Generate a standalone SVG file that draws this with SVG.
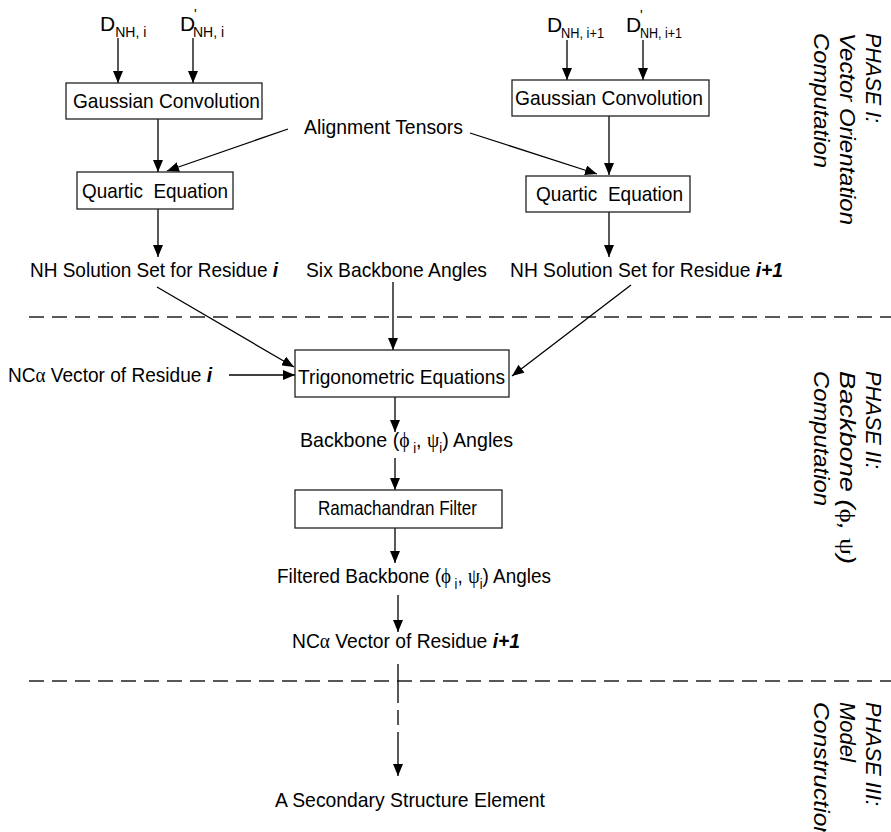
<svg xmlns="http://www.w3.org/2000/svg" width="891" height="832" viewBox="0 0 891 832">
<defs>
<marker id="ah" viewBox="0 0 12 10" refX="12" refY="5" markerWidth="12" markerHeight="10" orient="auto" markerUnits="userSpaceOnUse">
<path d="M0,0 L12,5 L0,10 z" fill="#000"/>
</marker>
<style>
text{font-family:"Liberation Sans",Arial,sans-serif;font-size:21px;fill:#000;white-space:pre}
.box{fill:#fff;stroke:#222;stroke-width:1.3}
.c{stroke:#000;stroke-width:1.3;fill:none}
.a{marker-end:url(#ah)}
.sub{font-size:14px}
.gr{font-family:"Liberation Serif","DejaVu Serif",serif}
.bi{font-weight:bold;font-style:italic}
.ph{font-style:italic;font-size:22px}
.dash{stroke:#222;stroke-width:1.3;stroke-dasharray:15 8;fill:none}
</style>
</defs>
<rect width="891" height="832" fill="#fff"/>

<g id="dividers">
<line class="dash" x1="29" y1="317" x2="891" y2="317"/>
<line class="dash" x1="29" y1="681" x2="891" y2="681"/>
</g>

<g id="connectors">
<line class="c a" x1="118" y1="38" x2="118" y2="83"/>
<line class="c a" x1="193" y1="38" x2="193" y2="83"/>
<line class="c a" x1="567" y1="40" x2="567" y2="80"/>
<line class="c a" x1="643" y1="40" x2="643" y2="80"/>
<line class="c a" x1="158" y1="119" x2="158" y2="172"/>
<line class="c a" x1="288" y1="129" x2="167" y2="171"/>
<line class="c a" x1="470" y1="133" x2="597" y2="174"/>
<line class="c a" x1="609" y1="116" x2="609" y2="175"/>
<line class="c a" x1="158" y1="209" x2="158" y2="257"/>
<line class="c a" x1="609" y1="212" x2="609" y2="257"/>
<line class="c a" x1="157" y1="287" x2="294" y2="367"/>
<line class="c a" x1="393" y1="282" x2="393" y2="350"/>
<line class="c a" x1="631" y1="285" x2="512" y2="376"/>
<line class="c a" x1="229" y1="375" x2="295" y2="375"/>
<line class="c a" x1="395" y1="397" x2="395" y2="432"/>
<line class="c a" x1="395" y1="458" x2="395" y2="490"/>
<line class="c a" x1="395" y1="528" x2="395" y2="563"/>
<line class="c a" x1="398" y1="595" x2="398" y2="632"/>
<line class="c a" x1="398" y1="664" x2="398" y2="776" stroke-width="2" stroke-dasharray="39 7 15 7 100"/>
</g>

<g id="d-nh-i">
<text x="100" y="31">D<tspan class="sub" dy="6">NH, i</tspan></text>
</g>
<g id="d-prime-nh-i">
<text x="180" y="31">D</text>
<text x="194" y="19" class="sub">'</text>
<text x="193" y="37" class="sub">NH, i</text>
</g>
<g id="d-nh-i1">
<text x="547" y="32">D</text>
<text x="561" y="38" class="sub" textLength="43" lengthAdjust="spacingAndGlyphs">NH, i+1</text>
</g>
<g id="d-prime-nh-i1">
<text x="626" y="32">D</text>
<text x="640" y="20" class="sub">'</text>
<text x="640" y="38" class="sub" textLength="42" lengthAdjust="spacingAndGlyphs">NH, i+1</text>
</g>

<g id="gauss-left">
<rect class="box" x="66" y="83" width="196" height="36"/>
<text x="73" y="108" textLength="187" lengthAdjust="spacingAndGlyphs">Gaussian Convolution</text>
</g>
<g id="gauss-right">
<rect class="box" x="512" y="80" width="197" height="36"/>
<text x="515" y="105" textLength="188" lengthAdjust="spacingAndGlyphs">Gaussian Convolution</text>
</g>
<g id="alignment">
<text x="304" y="134" textLength="159" lengthAdjust="spacingAndGlyphs">Alignment Tensors</text>
</g>
<g id="quartic-left">
<rect class="box" x="77" y="172" width="156" height="37"/>
<text x="82" y="198" textLength="146" lengthAdjust="spacingAndGlyphs">Quartic  Equation</text>
</g>
<g id="quartic-right">
<rect class="box" x="526" y="176" width="164" height="36"/>
<text x="536" y="201" textLength="147" lengthAdjust="spacingAndGlyphs">Quartic  Equation</text>
</g>
<g id="nh-set-i">
<text x="30" y="277" textLength="248" lengthAdjust="spacingAndGlyphs">NH Solution Set for Residue <tspan class="bi">i</tspan></text>
</g>
<g id="six-angles">
<text x="306" y="277" textLength="181" lengthAdjust="spacingAndGlyphs">Six Backbone Angles</text>
</g>
<g id="nh-set-i1">
<text x="510" y="277" textLength="273" lengthAdjust="spacingAndGlyphs">NH Solution Set for Residue <tspan class="bi">i+1</tspan></text>
</g>
<g id="nca-i">
<text x="8" y="382" textLength="204" lengthAdjust="spacingAndGlyphs">NC<tspan class="gr">α</tspan> Vector of Residue <tspan class="bi">i</tspan></text>
</g>
<g id="trig">
<rect class="box" x="295" y="350" width="214" height="47"/>
<text x="298" y="384" textLength="207" lengthAdjust="spacingAndGlyphs">Trigonometric Equations</text>
</g>
<g id="backbone-angles">
<text x="300" y="447" textLength="213" lengthAdjust="spacingAndGlyphs">Backbone (<tspan class="gr">ϕ</tspan><tspan class="sub" dy="6"> i</tspan><tspan dy="-6">, </tspan><tspan class="gr">ψ</tspan><tspan class="sub" dy="6">i</tspan><tspan dy="-6">) Angles</tspan></text>
</g>
<g id="rama">
<rect class="box" x="295" y="490" width="207" height="38"/>
<text x="318" y="515" textLength="159" lengthAdjust="spacingAndGlyphs" font-size="19">Ramachandran Filter</text>
</g>
<g id="filtered-angles">
<text x="277" y="583" textLength="274" lengthAdjust="spacingAndGlyphs">Filtered Backbone (<tspan class="gr">ϕ</tspan><tspan class="sub" dy="6"> i</tspan><tspan dy="-6">, </tspan><tspan class="gr">ψ</tspan><tspan class="sub" dy="6">i</tspan><tspan dy="-6">) Angles</tspan></text>
</g>
<g id="nca-i1">
<text x="292" y="648" textLength="228" lengthAdjust="spacingAndGlyphs">NC<tspan class="gr">α</tspan> Vector of Residue <tspan class="bi">i+1</tspan></text>
</g>
<g id="sse">
<text x="275" y="807" textLength="270" lengthAdjust="spacingAndGlyphs">A Secondary Structure Element</text>
</g>

<g id="phase1">
<text class="ph" transform="translate(866,33) rotate(90)" textLength="90" lengthAdjust="spacingAndGlyphs">PHASE I:</text>
<text class="ph" transform="translate(840,33) rotate(90)" textLength="192" lengthAdjust="spacingAndGlyphs">Vector Orientation</text>
<text class="ph" transform="translate(814,33) rotate(90)" textLength="135" lengthAdjust="spacingAndGlyphs">Computation</text>
</g>
<g id="phase2">
<text class="ph" transform="translate(866,371) rotate(90)" textLength="98" lengthAdjust="spacingAndGlyphs">PHASE II:</text>
<text class="ph" transform="translate(840,371) rotate(90)" textLength="193" lengthAdjust="spacingAndGlyphs">Backbone (<tspan class="gr" font-style="normal">ϕ</tspan>, <tspan class="gr" font-style="normal">ψ</tspan>)</text>
<text class="ph" transform="translate(814,371) rotate(90)" textLength="135" lengthAdjust="spacingAndGlyphs">Computation</text>
</g>
<g id="phase3">
<text class="ph" transform="translate(866,702) rotate(90)" textLength="104" lengthAdjust="spacingAndGlyphs">PHASE III:</text>
<text class="ph" transform="translate(840,702) rotate(90)" textLength="60" lengthAdjust="spacingAndGlyphs">Model</text>
<text class="ph" transform="translate(814,702) rotate(90)" textLength="138" lengthAdjust="spacingAndGlyphs">Construction</text>
</g>
</svg>
